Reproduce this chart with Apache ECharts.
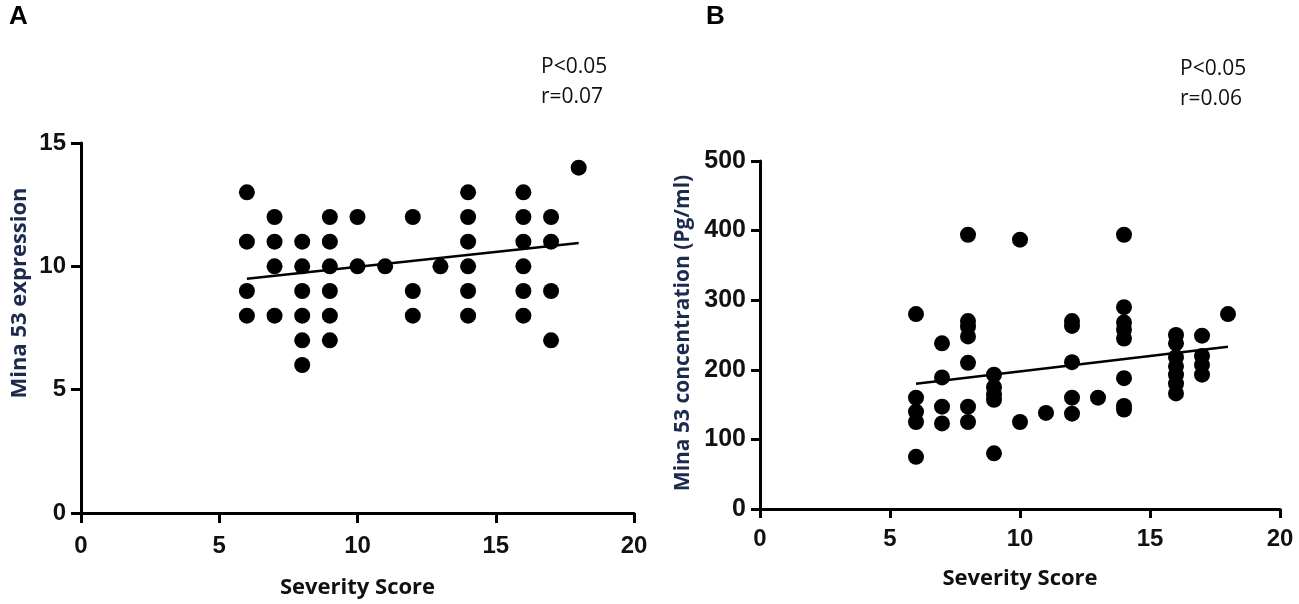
<!DOCTYPE html>
<html>
<head>
<meta charset="utf-8">
<style>
  html, body { margin: 0; padding: 0; background: #fff; }
  #chart { width: 1299px; height: 604px; }
</style>
<script src="https://cdn.jsdelivr.net/npm/echarts@6/dist/echarts.min.js"></script>
</head>
<body>
<div id="chart"></div>
<script>
var chart = echarts.init(document.getElementById('chart'));

/* A: severity score vs Mina 53 expression */
var scoreA = [6, 6, 6, 6,
    7, 7, 7, 7,
    8, 8, 8, 8, 8, 8,
    9, 9, 9, 9, 9, 9,
    10, 10, 11, 12, 12, 12, 13,
    14, 14, 14, 14, 14, 14,
    16, 16, 16, 16, 16, 16,
    17, 17, 17, 17, 18];
var exprA = [13, 11, 9, 8,
    12, 11, 10, 8,
    11, 10, 9, 8, 7, 6,
    12, 11, 10, 9, 8, 7,
    12, 10, 10, 12, 9, 8, 10,
    13, 12, 11, 10, 9, 8,
    13, 12, 11, 10, 9, 8,
    12, 11, 9, 7, 14];
var fitXA = [6, 18];
var fitYA = [9.5, 10.95];

/* B: severity score vs Mina 53 concentration */
var scoreB = [6, 6, 6, 6, 6,
    7, 7, 7, 7,
    8, 8, 8, 8, 8, 8, 8,
    9, 9, 9, 9, 9,
    10, 10, 11,
    12, 12, 12, 12, 12, 13,
    14, 14, 14, 14, 14, 14, 14, 14,
    16, 16, 16, 16, 16, 16, 16,
    17, 17, 17, 17, 18];
var concB = [280, 160, 140, 125, 75,
    238, 189, 147, 123,
    394, 270, 262, 248, 210, 147, 125,
    193, 175, 165, 157, 80,
    387, 125, 138,
    270, 263, 211, 160, 137, 160,
    394, 290, 268, 258, 245, 188, 148, 143,
    250, 238, 218, 205, 193, 180, 166,
    249, 220, 207, 193, 280];
var fitXB = [6, 18];
var fitYB = [180, 233];

function pairs(xs, ys) {
    var res = [];
    for (var i = 0; i < xs.length; i++) {
        res.push([xs[i], ys[i]]);
    }
    return res;
}

var axisLine = { show: true, lineStyle: { color: '#000', width: 3 } };
var nameFont = { fontFamily: 'Open Sans', fontWeight: 'bold', fontSize: 22 };
var yNameColor = '#1b2a4e';

function tick(len) {
    return { show: true, length: len, lineStyle: { color: '#000', width: 3 } };
}

function xAxisFor(idx, gap, margin, tickLen) {
    return {
        gridIndex: idx, type: 'value', min: 0, max: 20, interval: 5,
        name: 'Severity Score', nameLocation: 'middle', nameGap: gap,
        nameTextStyle: Object.assign({ color: '#111' }, nameFont),
        axisLine: axisLine, axisTick: tick(tickLen), splitLine: { show: false },
        axisLabel: { color: '#111', fontFamily: 'Liberation Sans', fontWeight: 'bold', fontSize: 24, margin: margin }
    };
}

var option = {
    backgroundColor: '#fff',
    animation: false,
    grid: [
        { left: 81, top: 143, width: 553, height: 371 },
        { left: 760, top: 161, width: 520, height: 348 }
    ],
    xAxis: [xAxisFor(0, 64, 21, 10), xAxisFor(1, 59, 18, 9)],
    yAxis: [{
        gridIndex: 0, type: 'value', min: 0, max: 15, interval: 5,
        axisLine: axisLine, axisTick: tick(10), splitLine: { show: false },
        axisLabel: { color: '#111', fontFamily: 'Liberation Sans', fontWeight: 'bold', fontSize: 24, margin: 15 }
    }, {
        gridIndex: 1, type: 'value', min: 0, max: 500, interval: 100,
        axisLine: axisLine, axisTick: tick(9), splitLine: { show: false },
        axisLabel: { color: '#111', fontFamily: 'Liberation Sans Narrow, Liberation Sans', fontWeight: 'bold', fontSize: 25, margin: 14 }
    }],
    graphic: [
        { type: 'text', left: 9, top: 4, style: { text: 'A', font: 'bold 26px Liberation Sans', fill: '#000' } },
        { type: 'text', left: 706, top: 4, style: { text: 'B', font: 'bold 26px Liberation Sans', fill: '#000' } },
        { type: 'text', left: 541, top: 52, style: { text: 'P<0.05\nr=0.07', font: '21px Open Sans', lineHeight: 30, fill: '#111' } },
        { type: 'text', left: 1180, top: 54, style: { text: 'P<0.05\nr=0.06', font: '21px Open Sans', lineHeight: 30, fill: '#111' } },
        { type: 'text', x: 20, y: 293, rotation: Math.PI / 2,
          style: { text: 'Mina 53 expression', font: 'bold 22px Open Sans', fill: yNameColor, align: 'center', verticalAlign: 'middle' } },
        { type: 'text', x: 683, y: 333, rotation: Math.PI / 2,
          style: { text: 'Mina 53 concentration (Pg/ml)', font: 'bold 21px Open Sans', fill: yNameColor, align: 'center', verticalAlign: 'middle' } }
    ],
    series: [{
        type: 'scatter', xAxisIndex: 0, yAxisIndex: 0,
        symbol: 'circle', symbolSize: 16,
        itemStyle: { color: '#000', opacity: 1 },
        data: pairs(scoreA, exprA)
    }, {
        type: 'line', xAxisIndex: 0, yAxisIndex: 0,
        symbol: 'none', lineStyle: { color: '#000', width: 2.5 },
        data: pairs(fitXA, fitYA)
    }, {
        type: 'scatter', xAxisIndex: 1, yAxisIndex: 1,
        symbol: 'circle', symbolSize: 16,
        itemStyle: { color: '#000', opacity: 1 },
        data: pairs(scoreB, concB)
    }, {
        type: 'line', xAxisIndex: 1, yAxisIndex: 1,
        symbol: 'none', lineStyle: { color: '#000', width: 2.5 },
        data: pairs(fitXB, fitYB)
    }]
};

chart.setOption(option);
</script>
</body>
</html>
